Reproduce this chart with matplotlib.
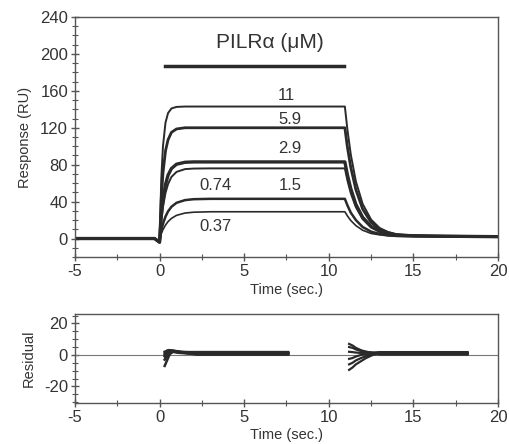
import matplotlib
matplotlib.use('Agg')
from matplotlib import pyplot as plt
from matplotlib.ticker import MultipleLocator

plt.rcParams['font.family'] = ['Liberation Sans', 'DejaVu Sans']
plt.rcParams['axes.unicode_minus'] = False

# 感作曲線（センサーグラム）: 時間 [sec]
time = [-5, -0.3, 0, 0.1, 0.2, 0.35, 0.5, 0.7, 1.0, 1.5, 2.0, 3.0, 5.0, 8.0, 10.95,
        11.1, 11.3, 11.6, 12.0, 12.5, 13.0, 13.5, 14.0, 15.0, 17.0, 20.0]

conc_labels = ['11', '5.9', '2.9', '1.5', '0.74', '0.37']

resp_11 = [0, 0, -4, 64.5, 100, 125.6, 135.9, 140.9, 142.6, 143, 143, 143, 143, 143, 143,
           118, 91, 62, 37.5, 20.5, 11.5, 7, 4.5, 3, 2.5, 2]
resp_5_9 = [0, 0, -4, 43.5, 71, 95, 107, 115, 118.7, 120, 120, 120, 120, 120, 120,
            99, 77, 53, 32, 17.5, 10, 6.5, 4.3, 3, 2.5, 2]
resp_2_9 = [0, 0, -4, 24.5, 41.8, 58.6, 68.6, 75.8, 80.5, 82.6, 83, 83, 83, 83, 83,
            69, 54, 37, 23, 13, 8, 5, 3.6, 3, 2.5, 2]
resp_1_5 = [0, 0, -4, 19.7, 34.3, 49.4, 59, 66.7, 72.2, 75.2, 75.8, 76, 76, 76, 76,
            63, 49, 34, 21, 12, 7.5, 5, 3.4, 3, 2.5, 2]
resp_0_74 = [0, 0, -4, 8.8, 15.9, 23.8, 29.4, 34.4, 38.7, 41.6, 42.6, 43, 43, 43, 43,
             36, 28, 20, 12.5, 7.5, 5, 3.5, 2.8, 2.5, 2.2, 2]
resp_0_37 = [0, 0, -4, 5.3, 9.6, 14.6, 18.3, 21.8, 25.1, 27.6, 28.5, 29, 29, 29, 29,
             24.5, 19.5, 14, 9, 5.5, 4, 3, 2.5, 2.3, 2.1, 2]

# ラベル位置 (時間, 応答)
label_t = [7.5, 7.7, 7.7, 7.7, 3.3, 3.3]
label_r = [155, 129, 97, 57, 57, 13]

# 注入区間のバー
inject_t = [0.3, 10.9]
inject_r = 187

# 残差
res_t_on = [0.3, 0.4, 0.5, 0.6, 0.8, 1.0, 1.3, 1.7, 2.2, 3.0, 4.0, 5.0, 6.0, 7.0, 7.6]
res_on = [
    [-7, -4.5, -2, 0.5, 2, 2, 1.5, 1, 1, 1, 1, 1, 1, 1, 1],
    [-3, -1.5, 0, 1.5, 2.5, 2.2, 1.8, 1.5, 1.4, 1.4, 1.4, 1.4, 1.4, 1.4, 1.4],
    [0, 1, 2, 2.5, 2.5, 2, 1.6, 1.2, 0.6, 0.6, 0.6, 0.6, 0.6, 0.6, 0.6],
    [2, 2.5, 3, 3, 2.8, 2.4, 2, 1.8, 1.8, 1.8, 1.8, 1.8, 1.8, 1.8, 1.8],
    [1, 1.5, 2, 2, 2, 1.5, 1.2, 1, 0.2, 0.2, 0.2, 0.2, 0.2, 0.2, 0.2],
    [-1, 0, 1, 2, 2.2, 2, 1.6, 1.2, 1.1, 1.1, 1.1, 1.1, 1.1, 1.1, 1.1],
]
res_t_off = [11.2, 11.4, 11.6, 11.9, 12.2, 12.6, 13.0, 13.5, 14.0, 15.0, 16.0, 17.0, 18.2]
res_off = [
    [-9.5, -8, -6, -4, -2, 0, 0.8, 1, 1, 1, 1, 1, 1],
    [-6, -5, -3.5, -2, -0.8, 0.5, 1.4, 1.4, 1.4, 1.4, 1.4, 1.4, 1.4],
    [-2.5, -2, -1, 0, 0.5, 0.8, 0.6, 0.6, 0.6, 0.6, 0.6, 0.6, 0.6],
    [2, 1.8, 1.5, 1.3, 1.2, 1.5, 1.8, 1.8, 1.8, 1.8, 1.8, 1.8, 1.8],
    [5, 4.5, 3.5, 2.5, 2, 1.3, 0.2, 0.2, 0.2, 0.2, 0.2, 0.2, 0.2],
    [7, 6, 4.5, 3, 2, 1.3, 1.1, 1.1, 1.1, 1.1, 1.1, 1.1, 1.1],
]

ink = '#2a2a2a'
frame = '#555555'
txt = '#333333'

fig = plt.figure(figsize=(5.09, 4.44), dpi=100)
ax = fig.add_axes([0.1473, 0.4212, 0.8311, 0.5405])
ax2 = fig.add_axes([0.1473, 0.0925, 0.8311, 0.2003])

# 上段：応答
curves = [resp_11, resp_5_9, resp_2_9, resp_1_5, resp_0_74, resp_0_37]
widths = [1.4, 2.0, 2.4, 1.4, 1.8, 1.2]
for r, w in zip(curves, widths):
    ax.plot(time, r, c=ink, lw=w)

for lab, lt, lr in zip(conc_labels, label_t, label_r):
    ax.text(lt, lr, lab, ha='center', va='center', fontsize=12, color=txt)

ax.plot(inject_t, [inject_r, inject_r], c=ink, lw=2.5)
ax.text(6.5, 212, 'PILR\u03b1 (\u03bcM)', ha='center', va='center', fontsize=15, color=txt)

ax.set_xlim(-5, 20)
ax.set_ylim(-20, 240)
ax.xaxis.set_major_locator(MultipleLocator(5))
ax.xaxis.set_minor_locator(MultipleLocator(2.5))
ax.yaxis.set_major_locator(MultipleLocator(40))
ax.yaxis.set_minor_locator(MultipleLocator(10))
ax.set_xlabel('Time (sec.)', fontsize=10.5, color=txt, labelpad=3)
ax.set_ylabel('Response (RU)', fontsize=10.5, color=txt, labelpad=6)

# 下段：残差
ax2.axhline(0, c='#777777', lw=0.8)
for r in res_on:
    ax2.plot(res_t_on, r, c=ink, lw=1.8)
for r in res_off:
    ax2.plot(res_t_off, r, c=ink, lw=1.6)

ax2.set_xlim(-5, 20)
ax2.set_ylim(-30.5, 26)
ax2.xaxis.set_major_locator(MultipleLocator(5))
ax2.xaxis.set_minor_locator(MultipleLocator(2.5))
ax2.yaxis.set_major_locator(MultipleLocator(20))
ax2.yaxis.set_minor_locator(MultipleLocator(5))
ax2.set_xlabel('Time (sec.)', fontsize=10.5, color=txt, labelpad=2)
ax2.set_ylabel('Residual', fontsize=10.5, color=txt, labelpad=6)

for a in (ax, ax2):
    for s in a.spines.values():
        s.set_color(frame)
        s.set_linewidth(1.0)
    a.tick_params(which='major', direction='inout', length=6, width=1, color=frame,
                  labelsize=12, labelcolor=txt, pad=2)
    a.tick_params(which='minor', direction='inout', length=4, width=0.8, color=frame)

fig.savefig('out.png', dpi=100)
plt.close()
